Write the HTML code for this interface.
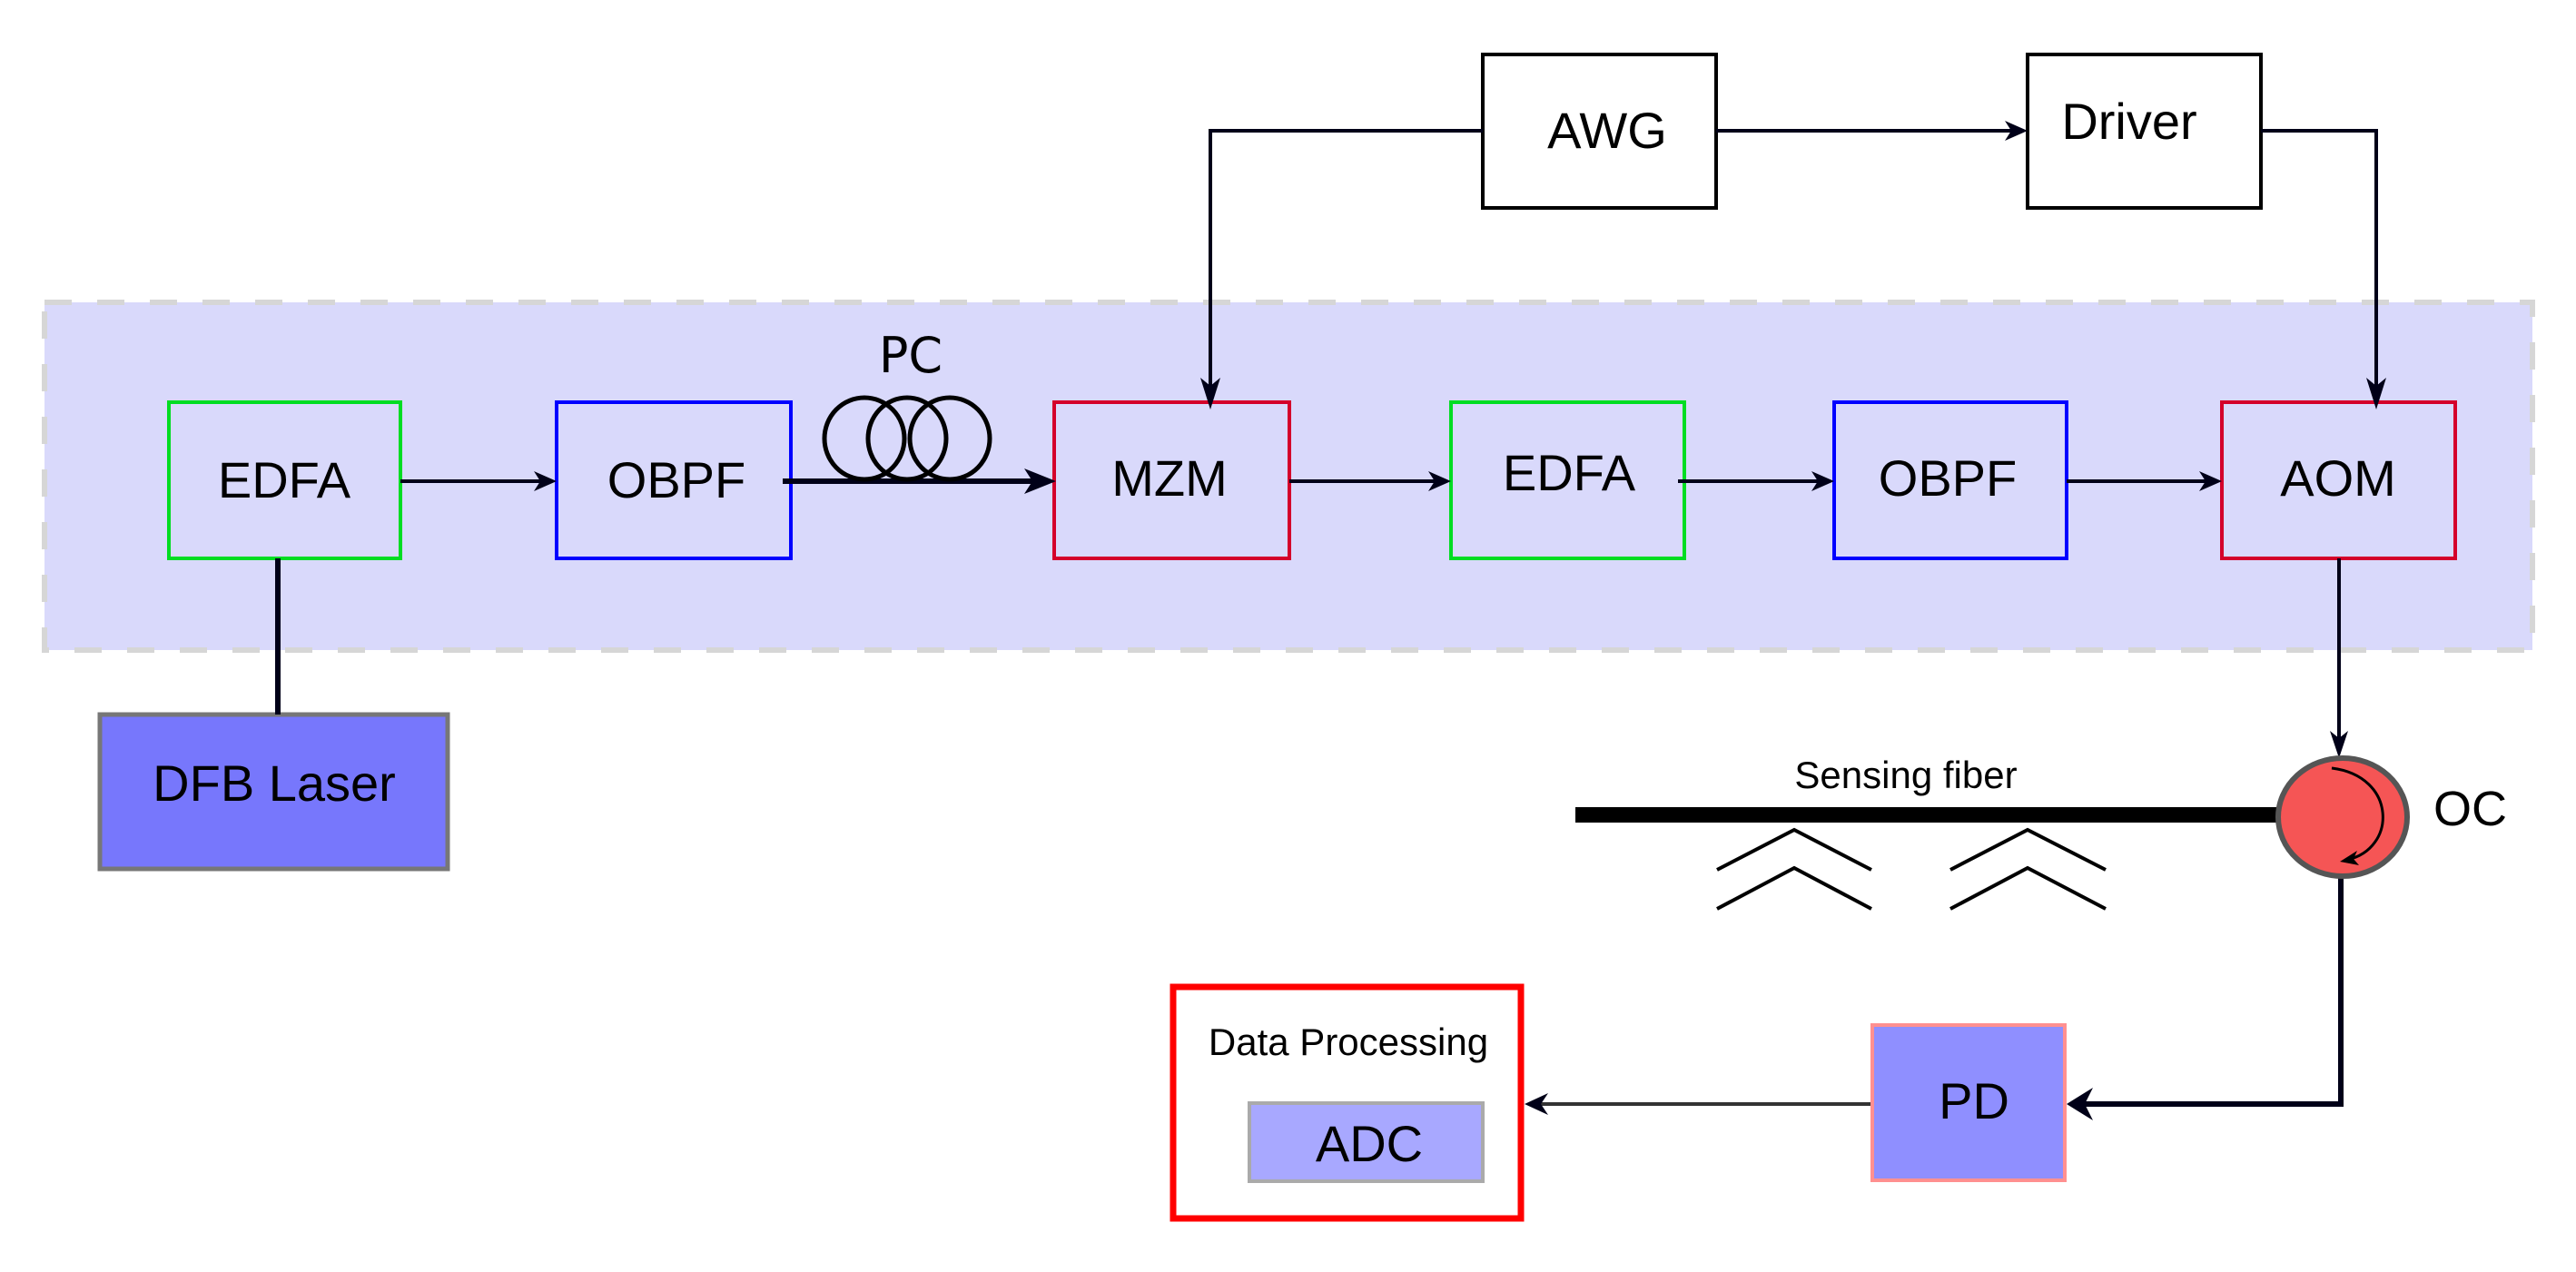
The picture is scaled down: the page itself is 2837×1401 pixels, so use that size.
<!DOCTYPE html>
<html><head><meta charset="utf-8"><style>
html,body{margin:0;padding:0;background:#fff;}
svg{display:block;}
text{font-family:"Liberation Sans",sans-serif;fill:#000;}
</style></head><body>
<svg width="2837" height="1401" viewBox="0 0 2837 1401" xmlns="http://www.w3.org/2000/svg">
<!-- dashed region -->
<rect x="49" y="333" width="2740" height="383" fill="#d9d9fb" stroke="#d6d6d6" stroke-width="6" stroke-dasharray="30,28"/>

<!-- boxes -->
<rect x="186" y="443" width="255" height="172" fill="none" stroke="#00dd22" stroke-width="4"/>
<rect x="613" y="443" width="258" height="172" fill="none" stroke="#0000ff" stroke-width="4"/>
<rect x="1161" y="443" width="259" height="172" fill="none" stroke="#d4002a" stroke-width="4"/>
<rect x="1598" y="443" width="257" height="172" fill="none" stroke="#00dd22" stroke-width="4"/>
<rect x="2020" y="443" width="256" height="172" fill="none" stroke="#0000ff" stroke-width="4"/>
<rect x="2447" y="443" width="257" height="172" fill="none" stroke="#d4002a" stroke-width="4"/>

<rect x="1633" y="60" width="257" height="169" fill="#fff" stroke="#000" stroke-width="4"/>
<rect x="2233" y="60" width="257" height="169" fill="#fff" stroke="#000" stroke-width="4"/>

<rect x="110" y="787" width="383" height="170" fill="#7777fc" stroke="#777" stroke-width="5"/>

<g font-size="56" text-anchor="middle">
<text x="313" y="548">EDFA</text>
<text x="745" y="548">OBPF</text>
<text x="1288" y="546">MZM</text>
<text x="1728" y="540">EDFA</text>
<text x="2145" y="546">OBPF</text>
<text x="2575" y="546">AOM</text>
<text x="1770" y="163">AWG</text>
<text x="2345" y="153">Driver</text>
<text x="302" y="882">DFB Laser</text>
<text x="1003" y="410" style="font-family:'DejaVu Sans',sans-serif" font-size="54">PC</text>
</g>

<!-- connectors -->
<g stroke="#000018" stroke-width="4" fill="none">
<line x1="306" y1="615" x2="306" y2="787" stroke-width="6"/>
<line x1="441" y1="530" x2="605" y2="530"/>
<line x1="862" y1="530" x2="1150" y2="530" stroke-width="6"/>
<line x1="1420" y1="530" x2="1590" y2="530"/>
<line x1="1848" y1="530" x2="2012" y2="530"/>
<line x1="2276" y1="530" x2="2440" y2="530"/>
<polyline points="1633,144 1333,144 1333,436"/>
<line x1="1890" y1="144" x2="2226" y2="144"/>
<polyline points="2490,144 2617,144 2617,436"/>
<line x1="2576" y1="615" x2="2576" y2="827"/>
<polyline points="2578,967 2578,1216 2290,1216" stroke-width="6"/>
<line x1="2061" y1="1216" x2="1690" y2="1216" stroke="#333"/>
</g>
<!-- arrowheads -->
<g fill="#000018">
<path d="M613,530 L588,519 L595,530 L588,541 Z"/>
<path d="M1163,530 L1128,516 L1137,530 L1128,544 Z"/>
<path d="M1598,530 L1573,519 L1580,530 L1573,541 Z"/>
<path d="M2020,530 L1995,519 L2002,530 L1995,541 Z"/>
<path d="M2447,530 L2422,519 L2429,530 L2422,541 Z"/>
<path d="M2233,144 L2208,133 L2215,144 L2208,155 Z"/>
<path d="M1333,451 L1322,416 L1333,425 L1344,416 Z"/>
<path d="M2617,451 L2606,416 L2617,425 L2628,416 Z"/>
<path d="M2576,835 L2566,805 L2576,813 L2586,805 Z"/>
<path d="M2276,1216 L2305,1198 L2296,1216 L2305,1234 Z"/>
<path d="M1679,1216 L1705,1204 L1697,1216 L1705,1228 Z"/>
</g>

<!-- PC coils -->
<g fill="none" stroke="#000" stroke-width="5">
<ellipse cx="952" cy="483" rx="44" ry="45"/>
<ellipse cx="999" cy="483" rx="43" ry="45"/>
<ellipse cx="1046" cy="483" rx="44" ry="45"/>
</g>

<!-- sensing fiber -->
<rect x="1735" y="889" width="780" height="17" fill="#000"/>
<text x="2099" y="868" font-size="42" text-anchor="middle">Sensing fiber</text>
<g fill="none" stroke="#000" stroke-width="4">
<polyline points="1891,958 1976,914 2061,958"/>
<polyline points="1891,1001 1976,956 2061,1001"/>
<polyline points="2148,958 2233,914 2319,958"/>
<polyline points="2148,1001 2233,956 2319,1001"/>
</g>

<!-- OC -->
<ellipse cx="2580" cy="900" rx="71" ry="65" fill="#f55555" stroke="#555" stroke-width="6"/>
<path d="M2568,846 C2640,855 2640,935 2585,947" fill="none" stroke="#000" stroke-width="3"/>
<path d="M2577,949 L2596,937 L2592,946 L2598,953 Z" fill="#000"/>
<text x="2680" y="909" font-size="54">OC</text>

<!-- PD -->
<rect x="2062" y="1129" width="212" height="171" fill="#8f8fff" stroke="#ff9090" stroke-width="4"/>
<text x="2174" y="1232" font-size="56" text-anchor="middle">PD</text>

<!-- Data processing -->
<rect x="1292" y="1087" width="383" height="255" fill="#fff" stroke="#f00" stroke-width="7"/>
<text x="1485" y="1162" font-size="42" text-anchor="middle">Data Processing</text>
<rect x="1376" y="1215" width="257" height="86" fill="#a8a8ff" stroke="#aaa" stroke-width="4"/>
<text x="1508" y="1279" font-size="56" text-anchor="middle">ADC</text>
</svg>
</body></html>
